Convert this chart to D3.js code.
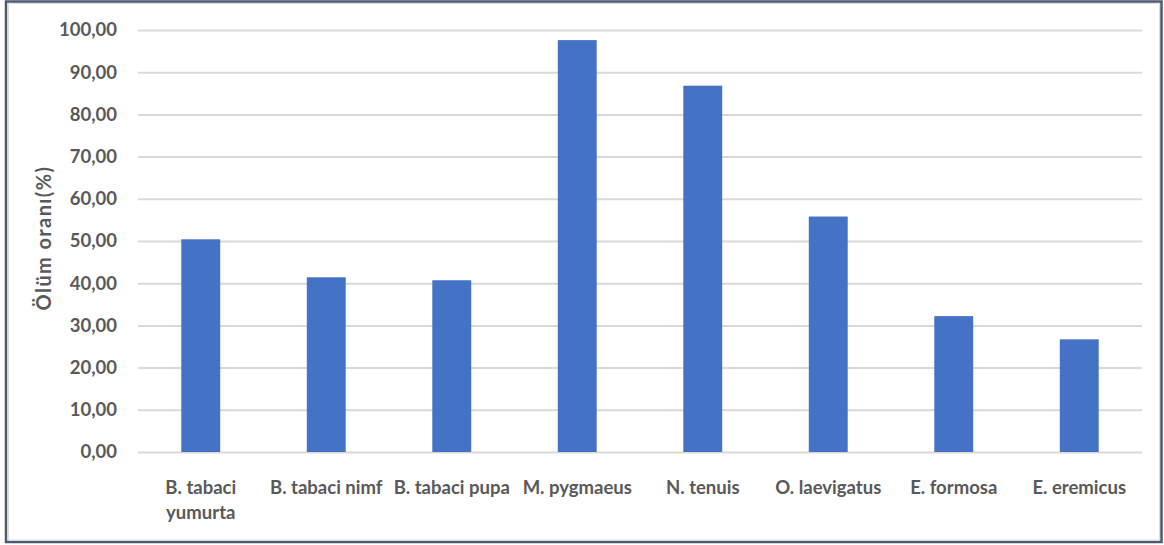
<!DOCTYPE html>
<html>
<head>
<meta charset="utf-8">
<script src="https://cdn.jsdelivr.net/npm/d3@7"></script>
<style>
  html, body { margin: 0; padding: 0; background: #fff; }
  svg { display: block; }
  text { font-family: Lato, "Open Sans", sans-serif; }
</style>
</head>
<body>
<svg id="chart" width="1164" height="545"></svg>
<script>
// Mortality rate (%) per species / life stage
const categories = [
  ["B. tabaci", "yumurta"],
  ["B. tabaci nimf"],
  ["B. tabaci pupa"],
  ["M. pygmaeus"],
  ["N. tenuis"],
  ["O. laevigatus"],
  ["E. formosa"],
  ["E. eremicus"]
];
const values = [50.4, 41.4, 40.7, 97.6, 86.8, 55.8, 32.2, 26.7];
const yTicks = [0, 10, 20, 30, 40, 50, 60, 70, 80, 90, 100];
const yTitle = "Ölüm oranı(%)";

const FONT = "Lato, 'Open Sans', sans-serif";
const svg = d3.select("#chart");
const W = 1164, H = 545;
const margin = { left: 138, right: 22, top: 30, bottom: 93 };
const textColor = "#595959";

// Outer frame
svg.append("rect")
  .attr("x", 6).attr("y", 1.5).attr("width", 1155.5).attr("height", 540.5)
  .attr("fill", "#fff").attr("stroke", "#4b5b70").attr("stroke-width", 2.5);
svg.append("rect")
  .attr("x", 8.5).attr("y", 3.5).attr("width", 1151).attr("height", 536.5)
  .attr("fill", "none").attr("stroke", "#dcdcdc").attr("stroke-width", 1);

const keys = categories.map((c, i) => i);
const x = d3.scaleBand()
  .domain(keys)
  .range([margin.left, W - margin.right])
  .paddingInner(0.69).paddingOuter(0.345);

const y = d3.scaleLinear()
  .domain([0, 100])
  .range([H - margin.bottom, margin.top]);

// Gridlines and y labels
const yAxis = d3.axisLeft(y)
  .tickValues(yTicks)
  .tickSize(-(W - margin.left - margin.right))
  .tickPadding(21)
  .tickFormat(d => d3.format(".2f")(d).replace(".", ","));

const gy = svg.append("g")
  .attr("transform", `translate(${margin.left},0)`)
  .call(yAxis)
  .attr("font-family", FONT);
gy.select(".domain").remove();
gy.selectAll(".tick line").attr("stroke", "#d9d9d9").attr("stroke-width", 2);
gy.selectAll(".tick text")
  .attr("fill", textColor)
  .attr("font-family", FONT)
  .attr("font-size", 18.5)
  .attr("font-weight", "bold");

// Bars
svg.append("g").selectAll("rect")
  .data(values)
  .join("rect")
  .attr("x", (d, i) => x(i))
  .attr("width", x.bandwidth())
  .attr("y", d => y(d))
  .attr("height", d => y(0) - y(d))
  .attr("fill", "#4472c4");

// Category labels
const gx = svg.append("g")
  .attr("transform", `translate(0,${y(0)})`)
  .call(d3.axisBottom(x).tickSize(0).tickPadding(0).tickFormat(""))
  .attr("font-family", FONT);
gx.select(".domain").remove();
gx.selectAll(".tick").each(function(i) {
  const t = d3.select(this).append("text")
    .attr("fill", textColor)
    .attr("font-family", FONT)
    .attr("font-size", 18.5)
    .attr("font-weight", "bold")
    .attr("text-anchor", "middle");
  categories[i].forEach((line, k) => {
    t.append("tspan").attr("x", 0).attr("y", 42 + k * 25).text(line);
  });
});

// Y axis title
svg.append("text")
  .attr("transform", `translate(51,238) rotate(-90)`)
  .attr("text-anchor", "middle")
  .attr("fill", textColor)
  .attr("font-family", FONT)
  .attr("font-size", 20)
  .attr("letter-spacing", 1.4)
  .attr("font-weight", "bold")
  .text(yTitle);
</script>
</body>
</html>
